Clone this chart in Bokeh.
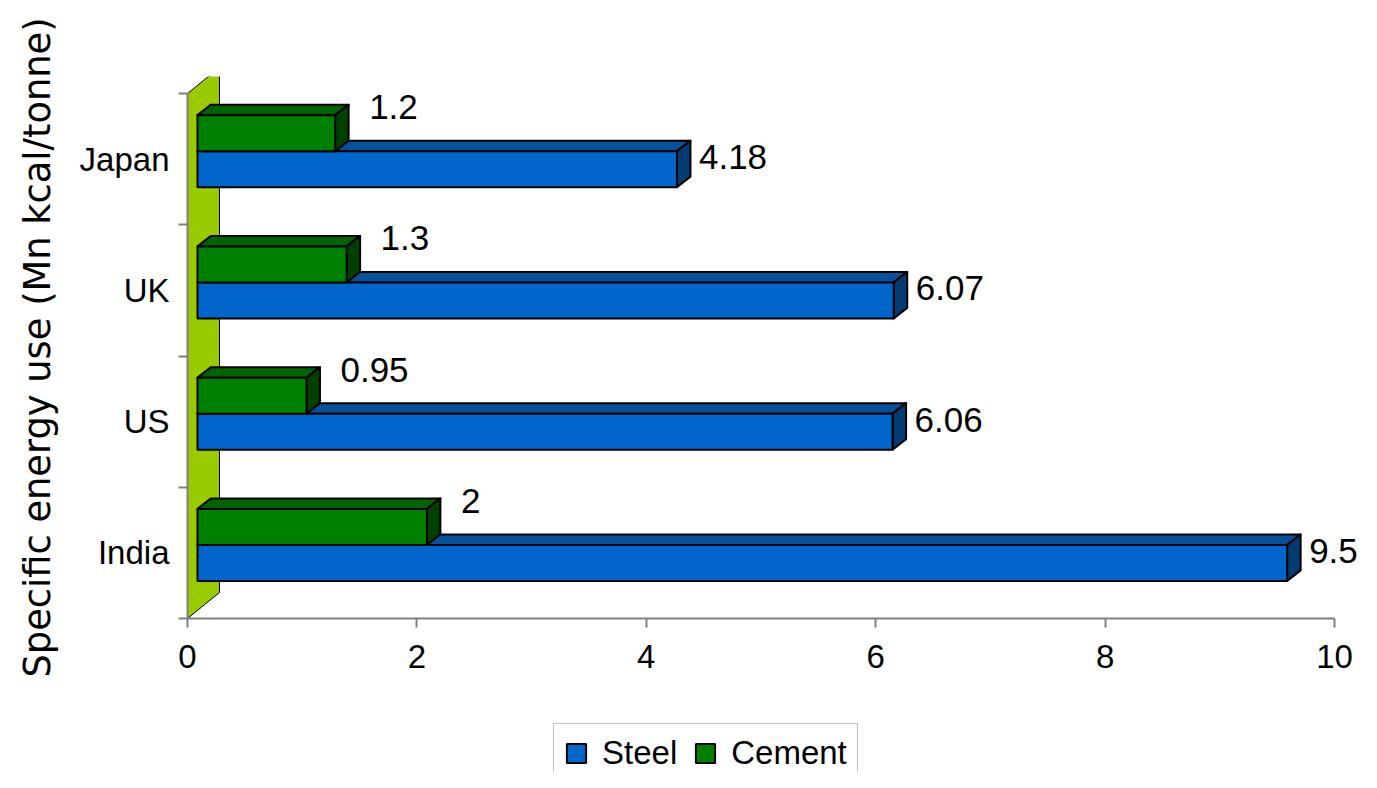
from bokeh.plotting import figure
from bokeh.models import Range1d, FixedTicker, Legend, LegendItem
from bokeh.layouts import column
from bokeh.embed import file_html
from bokeh.resources import INLINE
from bokeh.core.properties import value

# ---------------- data ----------------
countries = ["India", "US", "UK", "Japan"]
steel = [9.5, 6.06, 6.07, 4.18]
cement = [2.0, 0.95, 1.3, 1.2]
steel_labels = ["9.5", "6.06", "6.07", "4.18"]
cement_labels = ["2", "0.95", "1.3", "1.2"]
series_names = ["Steel", "Cement"]
x_ticks = [0, 2, 4, 6, 8, 10]
y_title = "Specific energy use (Mn kcal/tonne)"

# ---------------- layout (pixels) ----------------
W = 1361
H1, H2 = 722, 50
LEFT, TOP = 187, 76
AXIS_Y = 618          # figure-pixel row of the x axis line
TOP_Y = 93            # figure-pixel row of the top category boundary
BOTTOM = H1 - AXIS_Y
PX_X = 114.7          # px per x unit
PX_Y = 131.25         # px per category slot
FRAME_W = W - LEFT

pos = [i + 1 for i in range(len(countries))]
bounds_y = [p - 0.5 for p in pos] + [pos[-1] + 0.5]

FX, FY = 10 / PX_X, 8 / PX_Y          # front-face offset from the axis plane
DX, DY = 13.5 / PX_X, 10.5 / PX_Y     # bar depth
WX, WY = 32 / PX_X, 26 / PX_Y         # wall depth
T = 36 / PX_Y                          # bar thickness

STEEL = ("#0066CC", "#05519E", "#033B73")
CEMENT = ("#008000", "#006400", "#004000")

y0 = bounds_y[0]
y1 = bounds_y[-1] + (TOP_Y - TOP) / PX_Y

p = figure(width=W, height=H1, output_backend="svg", toolbar_location=None,
           x_range=Range1d(0, FRAME_W / PX_X), y_range=Range1d(y0, y1),
           min_border_left=LEFT, min_border_right=0, min_border_top=TOP,
           min_border_bottom=BOTTOM)
p.xgrid.visible = False
p.ygrid.visible = False
p.outline_line_color = None
p.background_fill_color = "white"

# back wall
p.patch(x=[0, 0, WX, WX],
        y=[bounds_y[0], bounds_y[-1], bounds_y[-1] + WY, bounds_y[0] + WY],
        fill_color="#99CC00", line_color="black", line_width=1)


def bar3d(vals, c_pos, lower, colors):
    front_col, top_col, side_col = colors
    bot = [c + FY - (T if lower else 0) for c in c_pos]
    top = [b + T for b in bot]
    right = [FX + v for v in vals]
    top_xs = [[FX, r, r + DX, FX + DX] for r in right]
    top_ys = [[t, t, t + DY, t + DY] for t in top]
    side_xs = [[r, r + DX, r + DX, r] for r in right]
    side_ys = [[b, b + DY, t + DY, t] for b, t in zip(bot, top)]
    p.patches(xs=top_xs, ys=top_ys, fill_color=top_col, line_color="black",
              line_width=2, line_join="round")
    p.patches(xs=side_xs, ys=side_ys, fill_color=side_col, line_color="black",
              line_width=2, line_join="round")
    p.quad(left=[FX] * len(vals), right=right, bottom=bot, top=top,
           fill_color=front_col, line_color="black", line_width=2,
           line_join="round")
    return right, bot, top


s_right, s_bot, s_top = bar3d(steel, pos, True, STEEL)
c_right, c_bot, c_top = bar3d(cement, pos, False, CEMENT)

# data labels
p.text(x=s_right, y=s_top, text=steel_labels, x_offset=22, y_offset=6,
       text_font=value("Liberation Sans"), text_font_size="35px",
       text_align="left", text_baseline="middle", text_color="black")
p.text(x=c_right, y=c_top, text=cement_labels, x_offset=34, y_offset=-8,
       text_font=value("Liberation Sans"), text_font_size="35px",
       text_align="left", text_baseline="middle", text_color="black")

# x axis
xa = p.xaxis[0]
xa.ticker = FixedTicker(ticks=x_ticks)
xa.bounds = (x_ticks[0], x_ticks[-1])
xa.axis_line_color = "#808080"
xa.axis_line_width = 2
xa.major_tick_out = 9
xa.major_tick_in = 0
xa.major_tick_line_color = "#808080"
xa.major_tick_line_width = 2
xa.minor_tick_line_color = None
xa.major_label_text_font = "Liberation Sans"
xa.major_label_text_font_size = "33px"
xa.major_label_text_color = "black"
xa.major_label_standoff = 17

# y axis
ya = p.yaxis[0]
ya.ticker = FixedTicker(ticks=pos, minor_ticks=bounds_y)
ya.bounds = (bounds_y[0], bounds_y[-1])
ya.axis_line_color = "#808080"
ya.axis_line_width = 2
ya.major_tick_out = 0
ya.major_tick_in = 0
ya.minor_tick_out = 9
ya.minor_tick_in = 0
ya.minor_tick_line_color = "#808080"
ya.minor_tick_line_width = 2
ya.major_label_overrides = {pp: c for pp, c in zip(pos, countries)}
ya.major_label_standoff = 9
ya.major_label_text_font = "Liberation Sans"
ya.major_label_text_font_size = "33px"
ya.major_label_text_color = "black"
ya.axis_label = y_title
ya.axis_label_text_font = "DejaVu Sans"
ya.axis_label_text_font_size = "36.8px"
ya.axis_label_text_font_style = "normal"
ya.axis_label_text_color = "black"
ya.axis_label_standoff = 18

# ---------------- legend strip ----------------
# The strip's ranges sit away from the data, so its quads only feed the legend.
q = figure(width=W, height=H2, output_backend="svg", toolbar_location=None,
           x_range=Range1d(0, 1), y_range=Range1d(-1, 0),
           x_axis_location=None, y_axis_location=None,
           min_border_left=LEFT, min_border_right=0, min_border_top=0,
           min_border_bottom=0)
q.xgrid.visible = False
q.ygrid.visible = False
q.outline_line_color = None
items = []
for name, vals, cols in zip(series_names, (steel, cement), (STEEL, CEMENT)):
    r = q.quad(left=vals, right=vals, bottom=pos, top=pos,
               fill_color=cols[0], line_color="black", line_width=2)
    items.append(LegendItem(label=name, renderers=[r]))

legend = Legend(items=items, location=(366, -11), orientation="horizontal",
                label_text_font="Liberation Sans", label_text_font_size="33px",
                label_text_color="black",
                glyph_width=24, glyph_height=24, label_standoff=14, spacing=16,
                padding=10, margin=0, border_line_color="#808080",
                border_line_width=1.5, background_fill_color="white",
                background_fill_alpha=1)
q.add_layout(legend)

layout = column(p, q, spacing=0)
open("out.html", "w").write(file_html(layout, INLINE))
